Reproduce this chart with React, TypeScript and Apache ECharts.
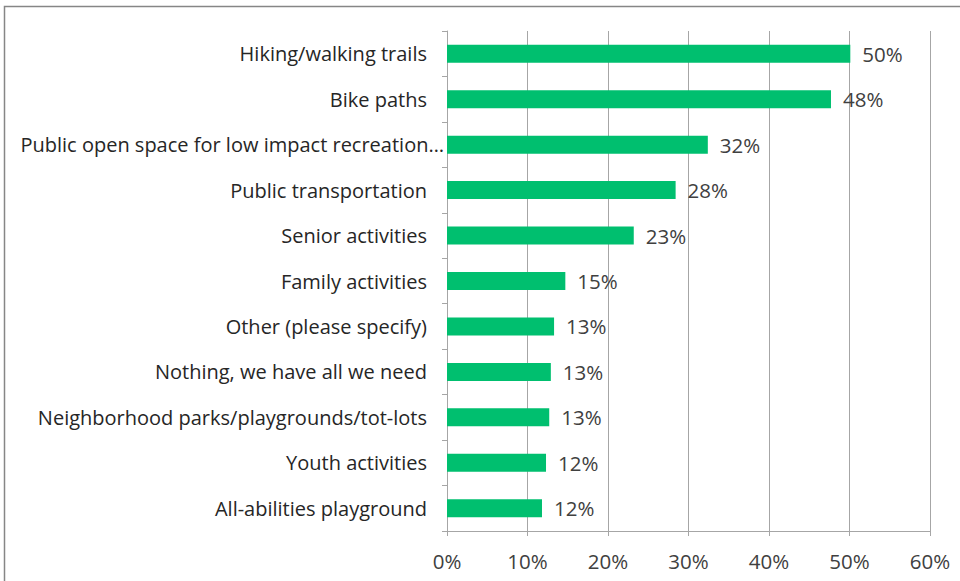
import React, { useEffect, useRef } from "react";
import * as echarts from "echarts";

const categories: string[] = [
  "Hiking/walking trails",
  "Bike paths",
  "Public open space for low impact recreation…",
  "Public transportation",
  "Senior activities",
  "Family activities",
  "Other (please specify)",
  "Nothing, we have all we need",
  "Neighborhood parks/playgrounds/tot-lots",
  "Youth activities",
  "All-abilities playground",
];

const values: number[] = [50.1, 47.7, 32.4, 28.4, 23.2, 14.7, 13.3, 12.9, 12.7, 12.3, 11.8];

const xTicks = { min: 0, max: 60, interval: 10 };

const FONT = "'Open Sans', 'Noto Sans', sans-serif";

export default function App() {
  const ref = useRef<HTMLDivElement>(null);
  useEffect(() => {
    if (!ref.current) return;
    const chart = echarts.init(ref.current, undefined, { renderer: "svg" });
    chart.setOption({
      animation: false,
      backgroundColor: "#ffffff",
      graphic: [
        {
          type: "rect",
          shape: { x: 4.5, y: 6.5, width: 1000, height: 600 },
          style: { fill: "none", stroke: "#868686", lineWidth: 1.5 },
          silent: true,
        },
      ],
      grid: { left: 447, right: 30, top: 31, bottom: 50, containLabel: false },
      xAxis: {
        type: "value",
        min: xTicks.min,
        max: xTicks.max,
        interval: xTicks.interval,
        axisLine: { show: true, lineStyle: { color: "#a6a6a6", width: 1 } },
        axisTick: { show: true, length: 5, lineStyle: { color: "#a6a6a6" } },
        splitLine: { show: true, lineStyle: { color: "#a6a6a6", width: 1 } },
        axisLabel: {
          formatter: "{value}%",
          fontSize: 20.5,
          fontFamily: FONT,
          color: "#404040",
          margin: 19,
        },
      },
      yAxis: {
        type: "category",
        inverse: true,
        data: categories,
        axisLine: { show: true, lineStyle: { color: "#a6a6a6", width: 1 } },
        axisTick: { show: true, length: 5, alignWithLabel: false, lineStyle: { color: "#a6a6a6" } },
        axisLabel: {
          fontSize: 20,
          fontFamily: FONT,
          color: "#262626",
          margin: 20,
          formatter: (v: string) => (v.endsWith("…") ? `{w|${v}}` : v),
          rich: {
            w: {
              fontSize: 20,
              fontFamily: FONT,
              color: "#262626",
              padding: [0, -17, 0, 0],
            },
          },
        },
      },
      series: [
        {
          type: "bar",
          data: values,
          barWidth: 18,
          itemStyle: { color: "#00bf6f" },
          label: {
            show: true,
            position: "right",
            distance: 12,
            fontSize: 20.5,
            fontFamily: FONT,
            color: "#404040",
            formatter: (p: any) => Math.round(p.value) + "%",
          },
        },
      ],
    });
    return () => chart.dispose();
  }, []);
  return (
    <div
      ref={ref}
      style={{ position: "fixed", left: 0, top: 0, width: 960, height: 581 }}
    />
  );
}
